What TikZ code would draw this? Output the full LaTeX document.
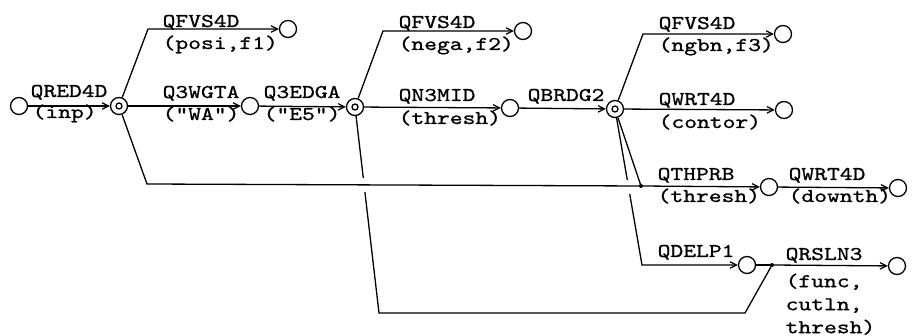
\documentclass[tikz,border=0pt]{standalone}
\usepackage{fontspec}
\usetikzlibrary{arrows.meta}
\newfontfamily\lblfont{lmmono10-regular.otf}[FakeStretch=1.25,FakeBold=0.9]
\begin{document}
\begin{tikzpicture}[x=1pt,y=-1pt,
  every path/.style={line width=1.3pt},
  circ/.style={circle,draw,line width=1.3pt,minimum size=17pt,inner sep=0pt},
  dcirc/.style={circ,path picture={\draw[line width=1.3pt] (path picture bounding box.center) circle (3pt);}},
  jdot/.style={circle,fill,inner sep=0pt,minimum size=4pt},
  arr/.style={-{Straight Barb[length=6.5pt,width=6.5pt,line width=1.2pt]}},
  lbl/.style={inner sep=0pt,anchor=base west,font=\lblfont\fontsize{19.5}{23}\selectfont},
  lblm/.style={lbl,align=left}]
\useasboundingbox (0,0) rectangle (912,336);
% nodes
\node[circ]  (s0) at (19,106) {};
\node[dcirc] (A)  at (119,106) {};
\node[circ]  (M1) at (250,106) {};
\node[dcirc] (B)  at (355,107) {};
\node[circ]  (M2) at (510,108) {};
\node[dcirc] (C)  at (615,109) {};
\node[circ]  (M3) at (784,110) {};
\node[circ]  (T1) at (288,29) {};
\node[circ]  (T2) at (523,31) {};
\node[circ]  (T3) at (783,34) {};
\node[circ]  (P1) at (769,187) {};
\node[circ]  (P2) at (898,188) {};
\node[circ]  (D1) at (747,265) {};
\node[circ]  (R1) at (897,266) {};
\node[jdot]  (j1) at (641,186) {};
\node[jdot]  (j2) at (772,265) {};
% corners
\coordinate (cA1) at (148,29);
\coordinate (cA3) at (147,184);
\coordinate (cB1) at (383,31);
\coordinate (gB1) at (363.3,178);
\coordinate (gB2) at (364.9,192);
\coordinate (cB3) at (379,313);
\coordinate (cB4) at (745,313);
\coordinate (cC1) at (643,34);
\coordinate (gC1) at (627.3,180);
\coordinate (gC2) at (629.7,194);
\coordinate (cC4) at (642,265);
% connectors
\draw[arr] (s0) -- (A);
\draw[arr] (A) -- (cA1) -- (T1);
\draw[arr] (A) -- (M1);
\draw (A) -- (cA3) -- (j1.center);
\draw[arr] (M1) -- (B);
\draw[arr] (B) -- (cB1) -- (T2);
\draw[arr] (B) -- (M2);
\draw (B) -- (gB1);
\draw (gB2) -- (cB3) -- (cB4) -- (j2.center);
\draw[arr] (M2) -- (C);
\draw[arr] (C) -- (cC1) -- (T3);
\draw[arr] (C) -- (M3);
\draw (C) -- (j1.center);
\draw (C) -- (gC1);
\draw[arr] (gC2) -- (cC4) -- (D1);
\draw[arr] (j1.center) -- (P1);
\draw[arr] (P1) -- (P2);
\draw (D1) -- (j2.center);
\draw[arr] (j2.center) -- (R1);
% labels
\node[lbl] (l1)  at (30,97)   {QRED4D};
\node[lbl] (l1b) at (32,118)  {(inp)};
\node[lbl] (l2)  at (162,27)  {QFVS4D};
\node[lbl] (l2b) at (162,49)  {(posi,f1)};
\node[lbl] (l3)  at (162,98)  {Q3WGTA};
\node[lbl] (l3b) at (162,120) {("WA")};
\node[lbl] (l4)  at (263,98)  {Q3EDGA};
\node[lbl] (l4b) at (263,120) {("E5")};
\node[lbl] (l5)  at (398,28)  {QFVS4D};
\node[lbl] (l5b) at (398,50)  {(nega,f2)};
\node[lbl] (l6)  at (398,101) {QN3MID};
\node[lbl] (l6b) at (398,124) {(thresh)};
\node[lbl] (l7)  at (527,101) {QBRDG2};
\node[lbl] (l8)  at (658,29)  {QFVS4D};
\node[lbl] (l8b) at (658,51)  {(ngbn,f3)};
\node[lbl] (l9)  at (658,105) {QWRT4D};
\node[lbl] (l9b) at (658,128) {(contor)};
\node[lbl] (l10)  at (657,180) {QTHPRB};
\node[lbl] (l10b) at (657,202) {(thresh)};
\node[lbl] (l11)  at (788,180) {QWRT4D};
\node[lbl] (l11b) at (788,202) {(downth)};
\node[lbl] (l12)  at (657,257) {QDELP1};
\node[lbl] (l13)  at (785,260) {QRSLN3};
\node[lblm,anchor=north west] (l13b) at (785,273) {(func,\\cutln,\\thresh)};
\end{tikzpicture}
\end{document}
